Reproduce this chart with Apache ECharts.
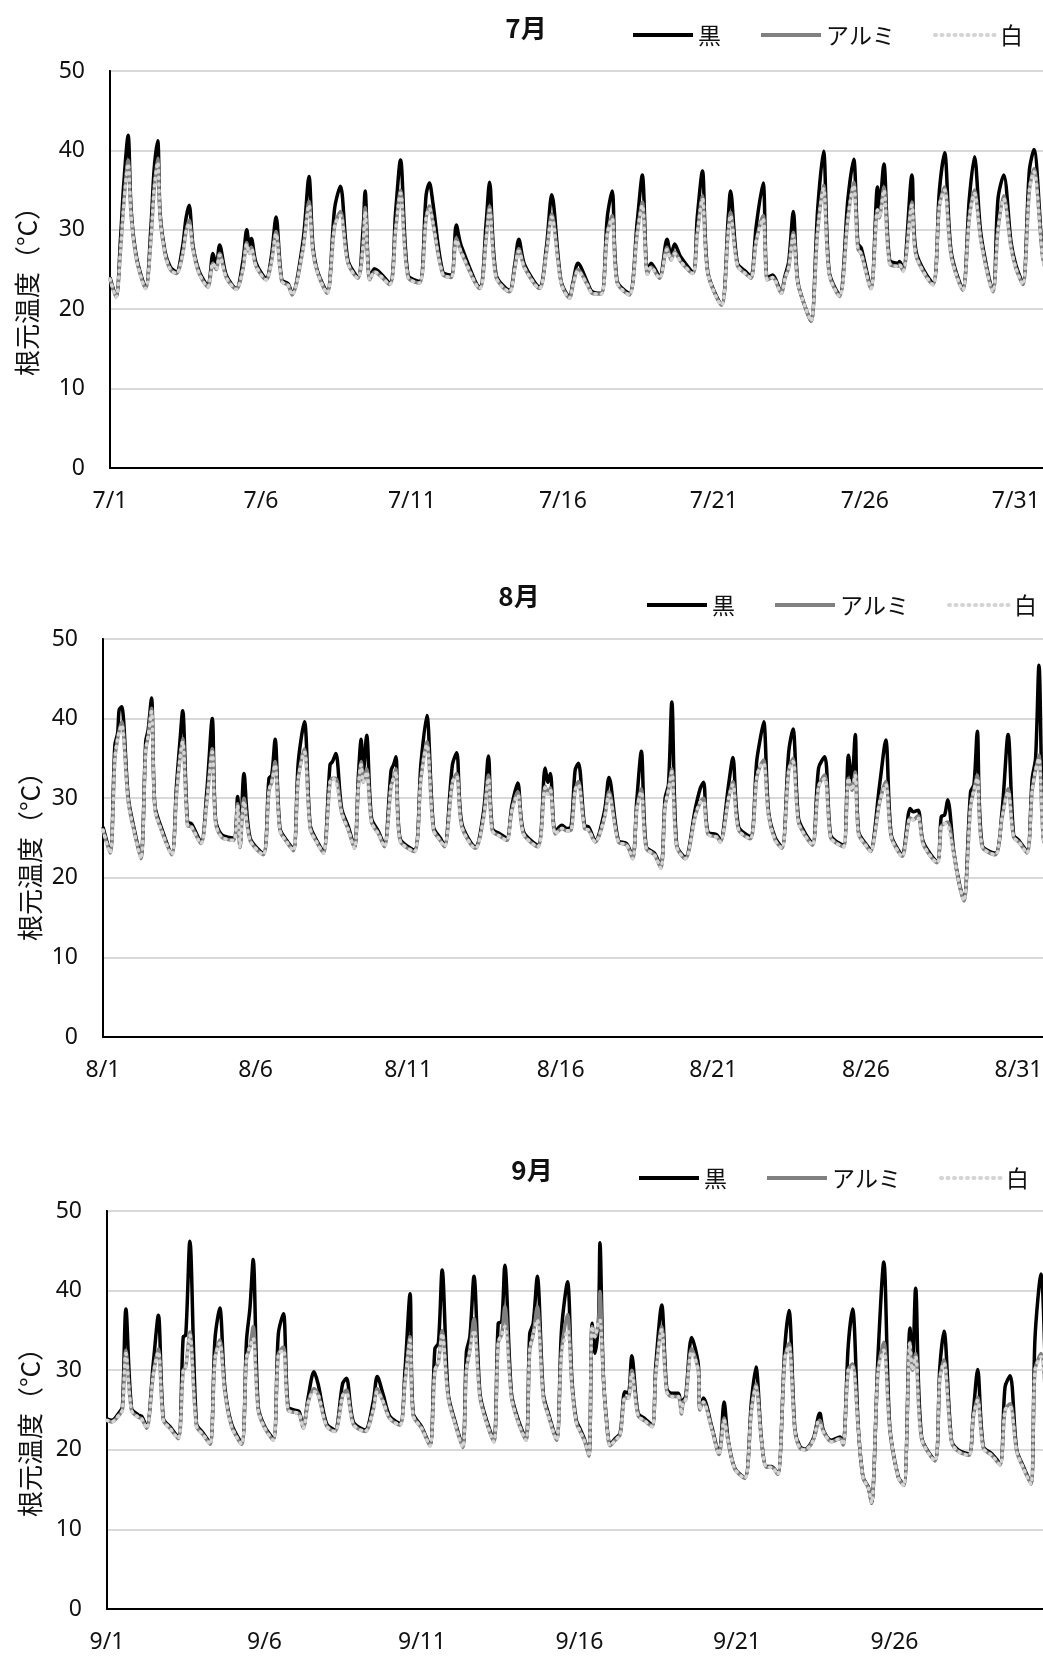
<!DOCTYPE html>
<html>
<head>
<meta charset="utf-8">
<script src="https://cdn.jsdelivr.net/npm/echarts@6/dist/echarts.min.js"></script>
<style>
  html, body { margin: 0; padding: 0; background: #fff; }
  #chart { width: 1043px; height: 1657px; }
</style>
</head>
<body>
<div id="chart"></div>
<script>
// 根元温度 (°C), time in days from the first of the month
const seriesNames = ['黒', 'アルミ', '白']

const julTicks = ['7/1', '7/6', '7/11', '7/16', '7/21', '7/26', '7/31']
const augTicks = ['8/1', '8/6', '8/11', '8/16', '8/21', '8/26', '8/31']
const sepTicks = ['9/1', '9/6', '9/11', '9/16', '9/21', '9/26']

const julT = [0, 0.2, 0.35, 0.45, 0.6, 0.7, 0.88,
  1.18, 1.35, 1.46, 1.58, 1.66, 1.82, 2.0,
  2.2, 2.4, 2.52, 2.62, 2.75, 2.95,
  3.24, 3.41, 3.52, 3.63, 3.85,
  4.18, 4.4, 4.53, 4.62, 4.68, 4.84,
  5.17, 5.34, 5.5, 5.69, 5.9,
  6.03, 6.39, 6.59, 6.72, 6.88,
  7.19, 7.44, 7.63, 7.88,
  8.21, 8.38, 8.45, 8.6, 8.76,
  9.26, 9.46, 9.62, 9.87,
  10.25, 10.47, 10.58, 10.69, 11.02,
  11.3, 11.47, 11.63,
  12.24, 12.46, 12.57, 12.79,
  13.23, 13.4, 13.54, 13.73,
  14.22, 14.45, 14.63, 14.94,
  15.22, 15.33, 15.5, 15.82, 15.97,
  16.27, 16.47, 16.63, 16.8,
  17.2, 17.46, 17.63, 17.8, 17.92,
  18.2, 18.45, 18.58, 18.7, 18.9,
  19.3, 19.45, 19.62, 19.8,
  20.25, 20.48, 20.55, 20.78, 21.07,
  21.23, 21.4, 21.63, 21.77, 21.95,
  22.23, 22.35, 22.48, 22.63, 22.78, 23.05,
  23.22, 23.44, 23.63, 23.82,
  24.16, 24.44, 24.63, 24.77, 24.88,
  25.2, 25.42, 25.48, 25.63, 25.82, 26.1, 26.15,
  26.27, 26.56, 26.7,
  27.25, 27.47, 27.64, 27.86,
  28.24, 28.46, 28.63, 28.85,
  29.24, 29.41, 29.6, 29.84, 30.0,
  30.23, 30.45, 30.6, 30.88, 31.0]
const julK = [24, 21.6, 29, 35.5, 41.9, 32.5, 26.5,
  22.8, 30, 37.5, 41.2, 32, 27.3, 25.3,
  24.7, 27.8, 31.5, 33.1, 28, 24.8,
  23, 27, 25.5, 28.1, 24.3,
  22.6, 26, 30, 28, 28.9, 25.8,
  23.9, 26.5, 31.6, 23.7, 23.2,
  22, 28.5, 36.7, 28, 24.7,
  22.2, 32.7, 35.5, 26.2,
  24.1, 30, 34.9, 23.9, 25.1,
  23.3, 32.3, 38.8, 24.3,
  23.5, 34.4, 35.9, 33.5, 24.7,
  24.3, 30.6, 28,
  22.8, 31, 36, 24.3,
  22.4, 25.5, 28.8, 25.6,
  22.8, 27.7, 34.4, 23.5,
  21.6, 23.3, 25.8, 23.3, 22.2,
  22, 31.6, 34.9, 23.5,
  22, 31, 36.9, 24.7, 25.8,
  24.1, 28.8, 26.8, 28.2, 26.6,
  24.7, 31.6, 37.4, 24.7,
  20.6, 31.8, 34.9, 25.8, 24.7,
  24.1, 30.4, 35.9, 23.9, 24.3,
  22.2, 24.1, 26, 32.3, 23.5, 20,
  18.5, 32.7, 39.9, 24.7,
  21.8, 33.9, 38.9, 28.3, 27.7,
  22.8, 35.4, 32.7, 38.3, 26.2, 25.8, 26,
  25.1, 36.9, 27.2,
  23.3, 35, 39.7, 27.2,
  22.6, 33.9, 39.2, 29.3,
  22.4, 33.9, 36.9, 28.5, 25.6,
  23.3, 37.5, 40.1, 27.2, 25]
const julA = [23.8, 21.5, 27.5, 33, 38.8, 31.8, 26.2,
  22.6, 28.5, 35, 39, 31.5, 27, 25,
  24.5, 26.8, 29.8, 31.2, 27.5, 24.5,
  22.8, 25.8, 25, 27, 24,
  22.5, 25, 28.4, 27, 27.8, 25.4,
  23.7, 25.8, 29.8, 23.5, 23,
  21.8, 27.5, 33.6, 27.3, 24.5,
  22, 30.5, 32.3, 25.8,
  23.9, 28, 32.8, 23.7, 24.7,
  23.1, 30, 35, 24,
  23.3, 31.5, 33, 31, 24.4,
  24, 29, 27.2,
  22.6, 29, 33, 24,
  22.2, 25, 27.6, 25.2,
  22.6, 27, 32, 23.3,
  21.4, 23, 25, 23, 22,
  21.9, 29.5, 31.8, 23.3,
  21.8, 29.5, 33.5, 24.4, 25.3,
  23.9, 27.8, 26.2, 27.2, 26,
  24.5, 29.5, 34.3, 24.5,
  20.5, 30, 32.2, 25.5, 24.4,
  23.9, 28.5, 31.8, 23.7, 24,
  22, 23.8, 25.3, 29.7, 23.3, 20,
  18.5, 30, 35.6, 24.4,
  21.6, 31.5, 36, 27.6, 27,
  22.6, 32.5, 31.5, 35.4, 25.8, 25.4, 25.6,
  24.8, 33.5, 26.7,
  23.1, 33, 35.4, 26.7,
  22.4, 31.5, 35, 28.5,
  22.2, 30, 34.3, 27.8, 25.2,
  23.1, 35, 37.7, 26.8, 24.7]
const julW = [23.8, 21.5, 27.5, 32.8, 38.3, 31.8, 26.2,
  22.6, 28.5, 35, 38.5, 31.5, 27, 25,
  24.5, 26.8, 29.8, 30.8, 27.5, 24.5,
  22.8, 25.8, 25, 26.8, 24,
  22.5, 25, 28.2, 27, 27.6, 25.4,
  23.7, 25.8, 29.5, 23.5, 23,
  21.8, 27.5, 33.1, 27.3, 24.5,
  22, 30.5, 31.8, 25.8,
  23.9, 28, 32.3, 23.7, 24.7,
  23.1, 30, 34.6, 24,
  23.3, 31.5, 32.7, 31, 24.4,
  24, 28.7, 27.2,
  22.6, 29, 32.5, 24,
  22.2, 25, 27.3, 25.2,
  22.6, 27, 31.6, 23.3,
  21.4, 23, 24.8, 23, 22,
  21.9, 29.5, 31.4, 23.3,
  21.8, 29.5, 33.1, 24.4, 25.3,
  23.9, 27.5, 26.2, 27, 26,
  24.5, 29.5, 33.9, 24.5,
  20.5, 30, 31.8, 25.5, 24.4,
  23.9, 28.5, 31.4, 23.7, 24,
  22, 23.8, 25.3, 29.3, 23.3, 20,
  18.5, 30, 35.2, 24.4,
  21.6, 31.5, 35.6, 27.6, 27,
  22.6, 32.5, 31.5, 35, 25.8, 25.4, 25.6,
  24.8, 33.1, 26.7,
  23.1, 33, 35, 26.7,
  22.4, 31.5, 34.6, 28.5,
  22.2, 30, 33.9, 27.8, 25.2,
  23.1, 35, 37.3, 26.8, 24.7]

const augT = [0, 0.23, 0.39, 0.48, 0.53, 0.61, 0.83, 1.04,
  1.24, 1.4, 1.48, 1.59, 1.7, 1.92,
  2.25, 2.41, 2.52, 2.61, 2.77, 2.9,
  3.21, 3.4, 3.58, 3.69, 3.89,
  4.27, 4.41, 4.49, 4.62, 4.82,
  5.25, 5.44, 5.53, 5.64, 5.8, 6.02,
  6.24, 6.4, 6.6, 6.79, 7.0,
  7.22, 7.44, 7.52, 7.63, 7.82, 8.04,
  8.24, 8.37, 8.46, 8.53, 8.64, 8.8, 9.03,
  9.22, 9.44, 9.52, 9.6, 9.73,
  10.2, 10.42, 10.61, 10.83, 11.05,
  11.19, 11.45, 11.59, 11.76,
  12.2, 12.47, 12.63, 12.76, 13.01,
  13.23, 13.4, 13.59, 13.78,
  14.25, 14.49, 14.58, 14.66, 14.82, 15.04, 15.2,
  15.34, 15.47, 15.58, 15.78, 15.91,
  16.13, 16.43, 16.58, 16.89, 17.16,
  17.36, 17.49, 17.64, 17.8, 18.07,
  18.28, 18.42, 18.53, 18.64, 18.8,
  19.08, 19.41, 19.57, 19.68, 19.82, 20.12,
  20.23, 20.5, 20.64, 20.83,
  21.21, 21.42, 21.53, 21.65, 21.81, 22.03,
  22.25, 22.47, 22.61, 22.79, 23.01,
  23.25, 23.45, 23.65, 23.84, 24.05,
  24.27, 24.43, 24.54, 24.65, 24.76, 25.03,
  25.15, 25.45, 25.65, 25.83, 26.12,
  26.2, 26.45, 26.55, 26.71, 26.88,
  27.33, 27.47, 27.58, 27.68, 27.88, 28.05,
  28.21, 28.43, 28.54, 28.65, 28.81,
  29.24, 29.46, 29.66, 29.84, 30.01,
  30.28, 30.45, 30.56, 30.67, 30.82, 31.0]
const augK = [26.4, 23.3, 36.7, 38.2, 41.1, 41.5, 30, 25.8,
  22.6, 37.1, 38.6, 42.6, 29.1, 26.2,
  23.1, 31.7, 37.1, 41, 27, 26.8,
  24.5, 30.8, 40, 27.3, 25.4,
  25, 30.2, 23.9, 33.1, 25,
  23.1, 32.5, 32.9, 37.4, 26.2, 24.7,
  23.6, 34.6, 39.6, 26.6, 24.7,
  23.3, 34.2, 34.6, 35.6, 28.7, 26.4,
  23.9, 32.9, 37.4, 33.3, 37.9, 27.5, 25.8,
  24.1, 33.5, 34.2, 35.2, 25,
  23.5, 34.4, 40.4, 26.4, 25,
  24.1, 34.2, 35.7, 26.8,
  23.9, 28.3, 35.3, 26.2, 25.5,
  25, 29.1, 31.9, 25.8,
  24.1, 33.8, 32, 33.1, 25.8, 26.6, 26.2,
  26.4, 33.5, 34.4, 26.6, 26.4,
  24.7, 28.3, 32.6, 24.7, 24.3,
  22.6, 29.6, 35.9, 23.9, 23.1,
  21.4, 30, 31.7, 42.1, 24.1,
  22.6, 28.7, 31.2, 32, 25.8, 25.4,
  24.7, 31.7, 35.1, 26.4,
  25.2, 34.6, 37.3, 39.6, 28.3, 25,
  23.9, 35.8, 38.7, 27.5, 25.6,
  24.3, 33.8, 35.2, 25.4, 24.5,
  24.1, 35.4, 32.1, 38, 25.8, 24.1,
  23.5, 31.7, 37.3, 25.4, 23.1,
  22.9, 28.7, 28.3, 28.5, 24.5,
  22.1, 27.7, 27.9, 29.8, 23.3, 19.5,
  17.2, 30.8, 31.7, 38.4, 24.1,
  23.1, 28.3, 38, 25.4, 24.7,
  23.3, 32.5, 35, 46.7, 25, 24]
const augA = [26, 23.1, 35, 37.5, 38.5, 39.6, 29.5, 25.5,
  22.4, 36, 37.8, 41.3, 28.7, 25.9,
  22.9, 30.5, 35, 37.5, 26.6, 26.4,
  24.3, 29.5, 36.2, 26.9, 25.1,
  24.7, 29.3, 23.8, 30, 24.7,
  22.9, 31, 32, 34.6, 25.9, 24.5,
  23.4, 32.5, 36.2, 26.2, 24.5,
  23.1, 32, 32.5, 32.5, 28.2, 26,
  23.7, 31.5, 34.6, 32, 33.7, 27, 25.5,
  23.9, 31.5, 32.5, 33.7, 24.7,
  23.3, 32.5, 37.1, 26, 24.7,
  23.9, 32, 33.1, 26.4,
  23.7, 27.5, 32.9, 25.9, 25.2,
  24.7, 28.5, 30.8, 25.5,
  23.9, 31.5, 30.5, 31.3, 25.5, 26.2, 25.9,
  26, 31, 32.1, 26.2, 26,
  24.5, 27.5, 30.8, 24.5, 24.1,
  22.4, 28.5, 31.2, 23.7, 22.9,
  21.2, 29, 31, 33.7, 23.9,
  22.4, 27.8, 29.5, 30, 25.5, 25.1,
  24.5, 30, 32.1, 26,
  24.9, 32.5, 34, 34.8, 27.8, 24.7,
  23.7, 33.5, 35, 27, 25.3,
  24.1, 31.5, 32.9, 25.1, 24.3,
  23.9, 32.5, 31, 33.3, 25.5, 23.9,
  23.3, 29.5, 32.1, 25.1, 22.9,
  22.7, 27.5, 27.3, 27.8, 24.2,
  21.9, 26.5, 26.8, 27, 23, 19.3,
  17.1, 29, 31, 32.9, 23.9,
  22.9, 27.5, 31.2, 25.1, 24.5,
  23.1, 31, 33.5, 35.4, 24.7, 23.8]
const augW = [26, 23.1, 35, 37.5, 38.3, 39.2, 29.5, 25.5,
  22.4, 36, 37.8, 40.9, 28.7, 25.9,
  22.9, 30.5, 35, 37.1, 26.6, 26.4,
  24.3, 29.5, 35.8, 26.9, 25.1,
  24.7, 29.1, 23.8, 29.6, 24.7,
  22.9, 31, 32, 34.2, 25.9, 24.5,
  23.4, 32.5, 35.8, 26.2, 24.5,
  23.1, 32, 32.5, 32.1, 28.2, 26,
  23.7, 31.5, 34.2, 32, 33.3, 27, 25.5,
  23.9, 31.5, 32.5, 33.3, 24.7,
  23.3, 32.5, 36.7, 26, 24.7,
  23.9, 32, 32.7, 26.4,
  23.7, 27.5, 32.5, 25.9, 25.2,
  24.7, 28.5, 30.4, 25.5,
  23.9, 31.3, 30.5, 31, 25.5, 26.2, 25.9,
  26, 31, 31.7, 26.2, 26,
  24.5, 27.5, 30.4, 24.5, 24.1,
  22.4, 28.5, 30.8, 23.7, 22.9,
  21.2, 29, 31, 33.3, 23.9,
  22.4, 27.8, 29.5, 29.6, 25.5, 25.1,
  24.5, 30, 31.7, 26,
  24.9, 32.5, 34, 34.4, 27.8, 24.7,
  23.7, 33.5, 34.6, 27, 25.3,
  24.1, 31.5, 32.5, 25.1, 24.3,
  23.9, 32.5, 31, 32.9, 25.5, 23.9,
  23.3, 29.5, 31.7, 25.1, 22.9,
  22.7, 27.5, 27.3, 27.5, 24.2,
  21.9, 26.5, 26.8, 26.6, 23, 19.3,
  17.1, 29, 31, 32.5, 23.9,
  22.9, 27.5, 30.8, 25.1, 24.5,
  23.1, 31, 33.5, 35, 24.7, 23.8]

const sepT = [0, 0.15, 0.41, 0.49, 0.6, 0.78, 0.99, 1.1,
  1.26, 1.47, 1.63, 1.79, 2.0,
  2.26, 2.42, 2.5, 2.63, 2.84, 3.05,
  3.27, 3.43, 3.58, 3.74, 3.95,
  4.27, 4.43, 4.54, 4.64, 4.8, 5.01,
  5.28, 5.44, 5.6, 5.75, 5.96, 6.1,
  6.23, 6.39, 6.57, 6.7, 6.97,
  7.23, 7.48, 7.6, 7.82,
  8.19, 8.45, 8.58, 8.77, 8.98,
  9.3, 9.46, 9.62, 9.72, 9.99,
  10.25, 10.41, 10.52, 10.64, 10.83, 11.04,
  11.29, 11.41, 11.52, 11.65, 11.84, 12.05,
  12.28, 12.42, 12.53, 12.63, 12.84, 13.06,
  13.3, 13.42, 13.53, 13.66, 13.85, 14.01,
  14.27, 14.43, 14.62, 14.76, 14.9, 15.01, 15.17,
  15.3, 15.4, 15.49, 15.6, 15.65, 15.75, 15.86, 15.97,
  16.13, 16.29, 16.44, 16.55, 16.66, 16.86, 17.08,
  17.31, 17.42, 17.61, 17.77, 17.92, 18.13, 18.24,
  18.29, 18.37, 18.56, 18.77, 18.82, 18.93, 19.2,
  19.43, 19.59, 19.72, 19.93,
  20.25, 20.46, 20.6, 20.78, 20.94, 21.1,
  21.29, 21.52, 21.65, 21.84, 22.0,
  22.16, 22.42, 22.58, 22.63, 22.74, 23.0,
  23.27, 23.37, 23.53, 23.67, 23.85, 24.0, 24.17,
  24.27, 24.48, 24.66, 24.85, 25.12,
  25.3, 25.49, 25.57, 25.67, 25.86,
  26.28, 26.44, 26.57, 26.81, 27.02,
  27.36, 27.5, 27.64, 27.82, 28.09,
  28.35, 28.51, 28.67, 28.88, 29.09,
  29.33, 29.46, 29.65, 29.85, 30.0]
const sepK = [23.9, 23.7, 24.8, 25.4, 37.7, 25.2, 24.4, 24.2,
  22.9, 30.9, 36.9, 23.9, 22.9,
  21.6, 34.2, 34.4, 46.2, 23.3, 22.1,
  20.9, 34, 37.8, 27.9, 23.3,
  20.9, 33.8, 37.9, 43.9, 25.4, 22.9,
  21.4, 34.6, 37.1, 25.4, 25, 24.8,
  22.9, 26.7, 29.8, 28.3, 23.3,
  22.5, 28.3, 29, 23.5,
  22.5, 26, 29.2, 26.9, 24.2,
  23.3, 30, 39.6, 24.6, 22.9,
  20.6, 32.7, 33.4, 42.6, 27.1, 23.7,
  20.5, 32.3, 34.2, 41.8, 27.1, 23.7,
  21.2, 35.9, 36.1, 43.2, 27.1, 23.7,
  21.4, 34.6, 35.9, 41.8, 27.1, 24.6,
  21.4, 35.1, 41.1, 28.8, 23.7, 22.7, 21.2,
  19.3, 35.9, 32.1, 35.9, 46, 30, 23.7, 20.7,
  21.4, 22.1, 27.3, 27.1, 31.8, 24.6, 23.9,
  23.1, 30.5, 38.2, 27.7, 27.1, 27.1, 25,
  26.2, 26.7, 34.1, 30.8, 25.2, 26.5, 22.9,
  19.5, 26, 21.2, 17.7,
  16.5, 26.2, 30.4, 21.2, 17.9, 17.9,
  17, 33, 37.5, 22.5, 20.4,
  20.1, 21.4, 24.2, 24.6, 22.5, 21.2,
  21.6, 20.8, 33, 37.7, 22.9, 16.6, 15.3,
  13.3, 32.1, 43.6, 22.9, 16.6,
  15.6, 35.3, 30.4, 40.3, 21.6,
  18.7, 30.4, 34.9, 21.2, 20,
  19.5, 24.6, 30.1, 20.4, 19.5,
  18.3, 27.9, 29.3, 20, 17.9,
  15.8, 34, 42.1, 25, 22]
const sepA = [23.7, 23.5, 24.5, 25, 32.5, 24.9, 24.1, 23.9,
  22.7, 29.5, 32.7, 23.7, 22.7,
  21.4, 30, 30.4, 34.8, 23, 21.9,
  20.7, 31.5, 33.8, 27.3, 23,
  20.7, 31.5, 33, 35.5, 25, 22.7,
  21.2, 32, 32.9, 25, 24.7, 24.5,
  22.7, 26, 27.7, 27, 23,
  22.3, 26.8, 27.5, 23.2,
  22.3, 25, 27.7, 26, 23.9,
  23.1, 28.5, 34.2, 24.3, 22.7,
  20.5, 30, 31, 35, 26.6, 23.4,
  20.3, 30, 32.5, 36.5, 26.6, 23.4,
  21, 33.5, 34.5, 38, 26.6, 23.4,
  21.2, 32.5, 34.5, 38, 26.6, 24.3,
  21.2, 32.5, 37, 28, 23.4, 22.4, 21,
  19.2, 35.5, 34.2, 36, 39.9, 29.5, 23.4, 20.5,
  21.2, 21.9, 26.5, 26.5, 30, 24.3, 23.6,
  22.9, 29.5, 35.5, 27.3, 26.7, 26.7, 24.5,
  26, 26.3, 32.7, 30, 25, 26, 22.6,
  19.4, 24, 21, 17.6,
  16.4, 25, 28.3, 21, 17.8, 17.8,
  16.9, 31.5, 33.4, 22.3, 20.2,
  20, 21.2, 23.5, 23.7, 22.3, 21,
  21.4, 20.6, 30, 30.8, 22.6, 16.5, 15.2,
  13.3, 30, 33.5, 22.6, 16.5,
  15.5, 33.5, 30, 32.1, 21.4,
  18.6, 29, 31.3, 21, 19.8,
  19.3, 24, 26.6, 20.2, 19.3,
  18.1, 25, 25.8, 19.8, 17.7,
  15.7, 30, 32.1, 24.6, 21.8]
const sepW = [23.7, 23.5, 24.5, 25, 32.1, 24.9, 24.1, 23.9,
  22.7, 29.5, 32.3, 23.7, 22.7,
  21.4, 30, 30.4, 34.4, 23, 21.9,
  20.7, 31.5, 33.4, 27.3, 23,
  20.7, 31.5, 33, 34, 25, 22.7,
  21.2, 32, 32.5, 25, 24.7, 24.5,
  22.7, 26, 27.3, 27, 23,
  22.3, 26.8, 27.1, 23.2,
  22.3, 25, 27.3, 26, 23.9,
  23.1, 28.5, 33.8, 24.3, 22.7,
  20.5, 30, 31, 34.6, 26.6, 23.4,
  20.3, 30, 32.5, 35, 26.6, 23.4,
  21, 33.5, 34.5, 35.5, 26.6, 23.4,
  21.2, 32.5, 34.5, 36.3, 26.6, 24.3,
  21.2, 32.1, 35, 28, 23.4, 22.4, 21,
  19.2, 35.5, 34.2, 36, 36.3, 29.5, 23.4, 20.5,
  21.2, 21.9, 26.5, 26.5, 29.6, 24.3, 23.6,
  22.9, 29.5, 35.1, 27.3, 26.7, 26.7, 24.5,
  26, 26.3, 32.3, 30, 25, 26, 22.6,
  19.4, 23.7, 21, 17.6,
  16.4, 25, 27.9, 21, 17.8, 17.8,
  16.9, 31.5, 33, 22.3, 20.2,
  20, 21.2, 23.5, 23.3, 22.3, 21,
  21.4, 20.6, 30, 30.4, 22.6, 16.5, 15.2,
  13.3, 30, 32.5, 22.6, 16.5,
  15.5, 33.5, 30, 31.7, 21.4,
  18.6, 29, 30.9, 21, 19.8,
  19.3, 24, 26.2, 20.2, 19.3,
  18.1, 25, 25.4, 19.8, 17.7,
  15.7, 30, 31.7, 24.6, 21.8]

const FONT = "'Noto Sans', 'Noto Sans CJK JP', sans-serif"
const JP_FONT = "'Noto Sans CJK JP', sans-serif"
const TEXT_COLOR = '#111'

const panels = [
  { title: '7月', t: julT, k: julK, a: julA, w: julW, ticks: julTicks, days: 31,
    grid: { left: 110, top: 71, width: 936, height: 397 },
    titlePos: [526, 28], legendPos: [631, 22], namePos: [27, 285] },
  { title: '8月', t: augT, k: augK, a: augA, w: augW, ticks: augTicks, days: 31,
    grid: { left: 103, top: 639, width: 946, height: 398 },
    titlePos: [519, 596], legendPos: [645, 592], namePos: [30, 850] },
  { title: '9月', t: sepT, k: sepK, a: sepA, w: sepW, ticks: sepTicks, days: 30,
    grid: { left: 107, top: 1211, width: 945, height: 398 },
    titlePos: [532, 1170], legendPos: [637, 1165], namePos: [30, 1426] }
]

function pairs(t, v) {
  return t.map((x, i) => [x, v[i]])
}

function buildOption() {
  const grid = []
  const xAxis = []
  const yAxis = []
  const series = []
  const legend = []
  const graphic = []

  panels.forEach((p, i) => {
    grid.push(Object.assign({
      show: true,
      borderColor: '#000',
      borderWidth: 2,
      backgroundColor: 'transparent',
      containLabel: false,
      outerBoundsMode: 'none'
    }, p.grid))
    xAxis.push({
      type: 'value',
      gridIndex: i,
      min: 0,
      max: p.days,
      interval: 5,
      axisLine: { show: true, lineStyle: { color: '#000', width: 2 } },
      axisTick: { show: false },
      splitLine: { show: false },
      axisLabel: {
        margin: 22,
        fontSize: 23,
        fontFamily: FONT,
        color: TEXT_COLOR,
        formatter: (v) => (v % 5 === 0 && p.ticks[v / 5]) ? p.ticks[v / 5] : ''
      }
    })
    yAxis.push({
      type: 'value',
      gridIndex: i,
      min: 0,
      max: 50,
      interval: 10,
      axisLine: { show: true, lineStyle: { color: '#000', width: 2 } },
      axisTick: { show: false },
      splitLine: { show: true, lineStyle: { color: '#d9d9d9', width: 2 } },
      axisLabel: { margin: 25, fontSize: 23, fontFamily: FONT, color: TEXT_COLOR }
    })
    series.push({
      name: '黒', type: 'line', xAxisIndex: i, yAxisIndex: i,
      data: pairs(p.t, p.k), symbol: 'none', showSymbol: false, z: 2, smooth: 0.3,
      lineStyle: { color: '#000', width: 3.5 }, itemStyle: { color: '#000' }
    })
    series.push({
      name: 'アルミ', type: 'line', xAxisIndex: i, yAxisIndex: i,
      data: pairs(p.t, p.a), symbol: 'none', showSymbol: false, z: 3, smooth: 0.3,
      lineStyle: { color: '#808080', width: 3.5 }, itemStyle: { color: '#808080' }
    })
    series.push({
      name: '白', type: 'line', xAxisIndex: i, yAxisIndex: i,
      data: pairs(p.t, p.w), symbol: 'none', showSymbol: false, z: 4, smooth: 0.3,
      lineStyle: { color: '#d4d4d4', width: 3.5, type: [1, 5.5], cap: 'round' },
      itemStyle: { color: '#d4d4d4' }
    })
    legend.push({
      data: seriesNames,
      left: p.legendPos[0],
      top: p.legendPos[1],
      padding: 0,
      itemWidth: 60,
      itemHeight: 14,
      itemGap: 38,
      selectedMode: false,
      itemStyle: { opacity: 0 },
      lineStyle: { width: 4 },
      textStyle: { fontSize: 23, lineHeight: 26, fontFamily: JP_FONT, color: TEXT_COLOR }
    })
    graphic.push({
      type: 'text',
      x: p.titlePos[0],
      y: p.titlePos[1],
      style: { text: p.title, font: 'bold 26px ' + JP_FONT, fill: TEXT_COLOR, align: 'center', verticalAlign: 'middle' }
    })
    graphic.push({
      type: 'text',
      x: p.namePos[0],
      y: p.namePos[1],
      rotation: Math.PI / 2,
      style: { text: '根元温度（°C）', font: '26px ' + JP_FONT, fill: TEXT_COLOR, align: 'center', verticalAlign: 'middle' }
    })
  })

  return { animation: false, backgroundColor: '#fff', grid, xAxis, yAxis, series, legend, graphic }
}

const chart = echarts.init(document.getElementById('chart'))
chart.setOption(buildOption())
</script>
</body>
</html>
